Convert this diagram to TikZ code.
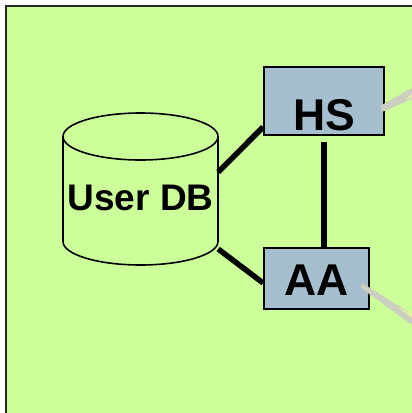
\documentclass[tikz,border=0pt]{standalone}
\usepackage{fontspec}
\setmainfont{Liberation Sans}
\definecolor{panel}{HTML}{CCFF99}
\definecolor{boxblue}{HTML}{A6BFCF}
\definecolor{wedge}{HTML}{CCCFC0}
\definecolor{glow}{HTML}{E6F59A}
\tikzset{
  server/.style={draw=black,line width=1.8pt,fill=boxblue,inner sep=0pt},
  bigtext/.style={font=\fontsize{44.5}{44.5}\bfseries\selectfont,inner sep=0pt},
  dbtext/.style={font=\fontsize{37}{37}\bfseries\selectfont,inner sep=0pt},
  link/.style={line width=5.5pt,draw=black},
  storeline/.style={draw=black,line width=1.6pt},
}
\begin{document}
\begin{tikzpicture}[x=1pt,y=-1pt]
\useasboundingbox (0,0) rectangle (412,413);
\fill[white] (0,0) rectangle (412,413);
\fill[panel] (6,6) rectangle (412,413);
\draw[black!85,line width=2.6pt] (6,413) -- (6,6) -- (412,6);
% user database: cylinder
\node[minimum width=155pt,minimum height=152pt,inner sep=0pt] (db) at (140.5,189) {};
\draw[storeline] (63,136.5)
  arc[start angle=180,end angle=-180,x radius=77.5,y radius=23.5];
\draw[storeline] (63,136.5) -- (63,241.5)
  arc[start angle=180,end angle=360,x radius=77.5,y radius=-23.5] -- (218,136.5);
\node[dbtext] (dblabel) at (140.5,198) {User DB};
% boxes
\node[server,minimum width=120pt,minimum height=68pt] (hs) at (324,101) {};
\node[bigtext] (hslabel) at (324,115.5) {HS};
\node[server,minimum width=105pt,minimum height=61pt] (aa) at (316.5,278.5) {};
\node[bigtext] (aalabel) at (316.5,280) {AA};
% connectors
\draw[link] ([yshift=17pt]db.east) -- ([yshift=-26pt]hs.west);
\draw[link] ([yshift=-60pt]db.east) -- ([yshift=-4.5pt]aa.west);
\draw[link] ([yshift=-41pt]hs.center) -- (aa.north -| hs.center);
% callout wedges
\fill[wedge] (380,106) -- (382,112) -- (412,99) -- (412,88) -- cycle;
\fill[glow] (405,100) -- (412,94) -- (412,97) -- cycle;
\fill[wedge] (362,283) -- (361,287) -- (365,291) -- (412,325) -- (412,314) -- cycle;
\fill[glow] (398,307) -- (412,314) -- (412,318) -- cycle;
\end{tikzpicture}
\end{document}
